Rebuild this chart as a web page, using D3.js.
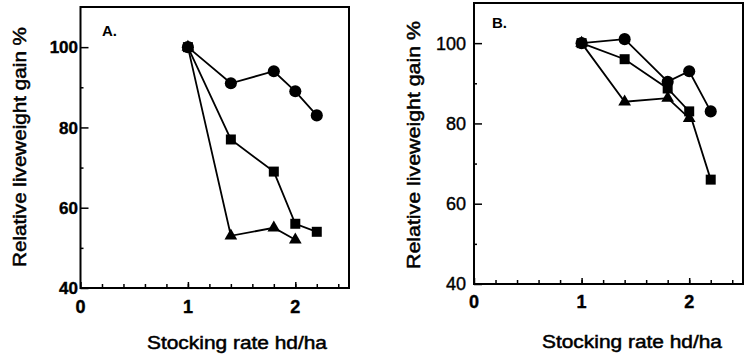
<!DOCTYPE html>
<html>
<head>
<meta charset="utf-8">
<script src="https://cdn.jsdelivr.net/npm/d3@7"></script>
<style>
  body { margin: 0; background: #fff; }
  svg { display: block; font-family: "Liberation Sans", Arial, sans-serif; }
</style>
</head>
<body>
<script>
// stocking rate (hd/ha) and relative liveweight gain (%)
var ratesFull = [1, 1.4, 1.8, 2, 2.2];
var ratesTri = [1, 1.4, 1.8, 2];

var aCircles = [100, 91, 94, 89, 83];
var aSquares = [100, 77, 69, 56, 54];
var aTriangles = [100, 53, 55, 52];

var bCircles = [100, 101, 90.4, 93, 83];
var bSquares = [100, 96, 88.7, 83, 66];
var bTriangles = [100, 85.4, 86.3, 81.3];

var yTickVals = [40, 60, 80, 100];
var yMinorVals = [50, 70, 90];
var xTickVals = [0, 1, 2];
var xMinorVals = [0.2, 0.4, 0.6, 0.8, 1, 1.2, 1.4, 1.6, 1.8, 2, 2.2, 2.4];

var svg = d3.select("body").append("svg").attr("width", 748).attr("height", 358);

drawPanel({
  left: 80.5, right: 349, top: 7, bottom: 288,
  label: "A.", labelX: 102, labelY: 36,
  series: [
    {x: ratesFull, y: aCircles, sym: d3.symbolCircle, size: 115},
    {x: ratesFull, y: aSquares, sym: d3.symbolSquare, size: 100},
    {x: ratesTri, y: aTriangles, sym: d3.symbolTriangle, size: 70}
  ],
  yTitleX: 19, yTitleY: 147, yTitleLen: 240,
  xTitleX: 237, xTitleY: 349,
  yLabelEnd: 78, yLabelSize: 17, yLabelWeight: "bold",
  xLabelBase: 313
});

drawPanel({
  left: 474, right: 743, top: 3, bottom: 284,
  label: "B.", labelX: 492, labelY: 28,
  series: [
    {x: ratesFull, y: bCircles, sym: d3.symbolCircle, size: 115},
    {x: ratesFull, y: bSquares, sym: d3.symbolSquare, size: 100},
    {x: ratesTri, y: bTriangles, sym: d3.symbolTriangle, size: 70}
  ],
  yTitleX: 413, yTitleY: 145, yTitleLen: 248,
  xTitleX: 632, xTitleY: 348,
  yLabelEnd: 466, yLabelSize: 18, yLabelWeight: "normal",
  xLabelBase: 308
});

function drawPanel(p){
  var x = d3.scaleLinear().domain([0, 2.5]).range([p.left, p.right]);
  var y = d3.scaleLinear().domain([40, 110]).range([p.bottom, p.top]);
  var g = svg.append("g");

  // frame
  g.append("rect")
    .attr("x", p.left).attr("y", p.top)
    .attr("width", p.right - p.left).attr("height", p.bottom - p.top)
    .attr("fill", "none").attr("stroke", "#000").attr("stroke-width", 2);

  // inward ticks, labels drawn separately
  var xMinor = g.append("g").attr("transform", "translate(0," + p.bottom + ")")
    .call(d3.axisBottom(x).tickValues(xMinorVals).tickSize(-4).tickFormat(""));
  var xMajor = g.append("g").attr("transform", "translate(0," + p.bottom + ")")
    .call(d3.axisBottom(x).tickValues(xTickVals).tickSize(-6).tickFormat(""));
  var yMinor = g.append("g").attr("transform", "translate(" + p.left + ",0)")
    .call(d3.axisLeft(y).tickValues(yMinorVals).tickSize(-3).tickFormat(""));
  var yMajor = g.append("g").attr("transform", "translate(" + p.left + ",0)")
    .call(d3.axisLeft(y).tickValues(yTickVals).tickSize(-8).tickFormat(""));

  [xMinor, xMajor, yMinor, yMajor].forEach(function(a){
    a.select(".domain").remove();
    a.selectAll(".tick line").attr("stroke", "#000").attr("stroke-width", 1.5);
  });

  g.selectAll(".xlab").data(xTickVals).enter().append("text")
    .attr("x", function(d){ return x(d); }).attr("y", p.xLabelBase)
    .attr("text-anchor", "middle")
    .attr("font-size", 18).attr("font-weight", "bold")
    .attr("stroke", "#000").attr("stroke-width", 0.4)
    .text(function(d){ return d; });

  g.selectAll(".ylab").data(yTickVals).enter().append("text")
    .attr("x", p.yLabelEnd).attr("y", function(d){ return y(d); })
    .attr("dy", "0.36em").attr("text-anchor", "end")
    .attr("font-size", p.yLabelSize).attr("font-weight", p.yLabelWeight)
    .attr("stroke", "#000").attr("stroke-width", 0.4)
    .text(function(d){ return d; });

  // series lines and markers
  var line = d3.line().x(function(d){ return x(d[0]); }).y(function(d){ return y(d[1]); });

  p.series.forEach(function(s){
    var pts = s.x.map(function(v, i){ return [v, s.y[i]]; });
    g.append("path").datum(pts)
      .attr("fill", "none").attr("stroke", "#000").attr("stroke-width", 1.8)
      .attr("d", line);
    g.selectAll(null).data(pts).enter().append("path")
      .attr("transform", function(d){ return "translate(" + x(d[0]) + "," + y(d[1]) + ")"; })
      .attr("d", d3.symbol().type(s.sym).size(s.size))
      .attr("fill", "#000");
  });

  // panel label
  g.append("text").attr("x", p.labelX).attr("y", p.labelY)
    .attr("font-size", 15).attr("font-weight", "bold").text(p.label);

  // axis titles
  g.append("text")
    .attr("transform", "translate(" + (p.yTitleX + 7) + "," + p.yTitleY + ") rotate(-90)")
    .attr("text-anchor", "middle")
    .attr("font-size", 19)
    .attr("stroke", "#000").attr("stroke-width", 0.5)
    .attr("textLength", p.yTitleLen).attr("lengthAdjust", "spacingAndGlyphs")
    .text("Relative liveweight gain %");

  g.append("text")
    .attr("x", p.xTitleX).attr("y", p.xTitleY)
    .attr("text-anchor", "middle")
    .attr("font-size", 18)
    .attr("stroke", "#000").attr("stroke-width", 0.5)
    .attr("textLength", 180).attr("lengthAdjust", "spacingAndGlyphs")
    .text("Stocking rate hd/ha");
}
</script>
</body>
</html>
